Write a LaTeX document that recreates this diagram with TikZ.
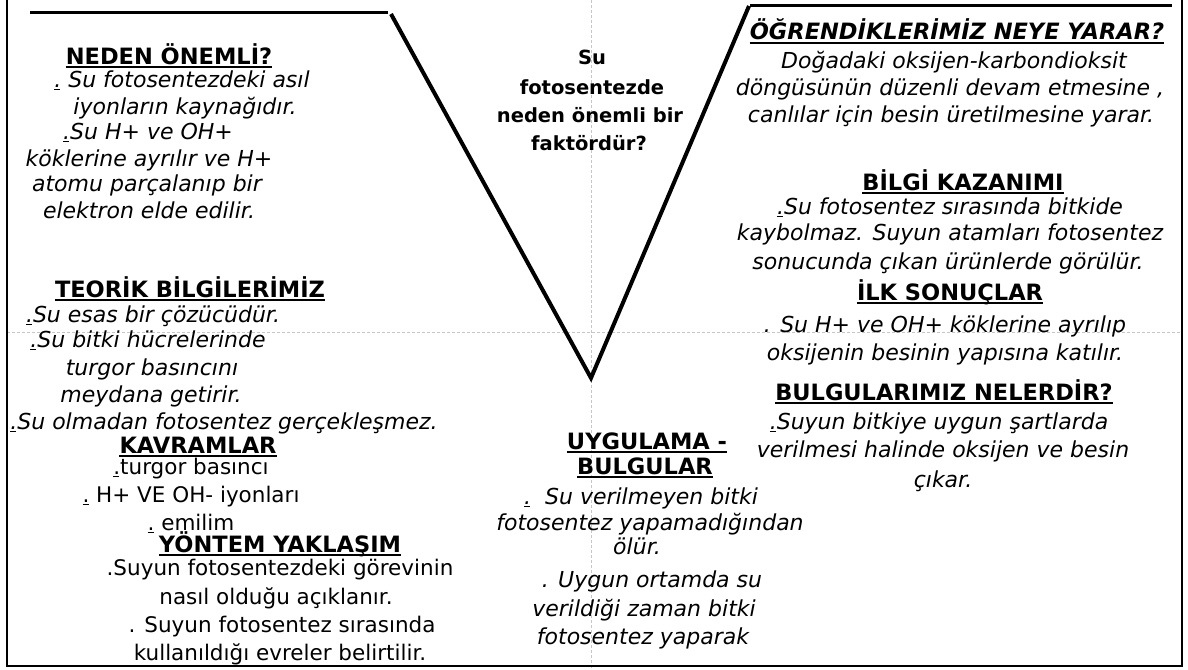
\documentclass[tikz,border=0pt]{standalone}
\usepackage{fontspec}
\setmainfont{DejaVu Sans}
\newcommand{\udot}{\rlap{\rule[-3pt]{6pt}{0.8pt}}.}

\tikzset{
  bodyline/.style={font=\fontsize{22}{26}\selectfont\itshape,anchor=base,inner sep=0pt},
  plainline/.style={font=\fontsize{21.5}{26}\selectfont,anchor=base,inner sep=0pt},
  headline/.style={font=\fontsize{22.5}{26}\selectfont\bfseries,anchor=base,inner sep=0pt,
    append after command={([yshift=-3pt]\tikzlastnode.base west) edge[line width=1.4pt] ([yshift=-3pt]\tikzlastnode.base east)}},
  questline/.style={font=\fontsize{19.5}{24}\selectfont\bfseries,anchor=base,inner sep=0pt},
  frame/.style={line width=2.5pt},
  varm/.style={line width=4pt},
  topline/.style={line width=3pt},
  guide/.style={gray!45,line width=0.7pt,dash pattern=on 3pt off 2pt}
}

\begin{document}
\begin{tikzpicture}[x=1pt,y=-1pt]
\useasboundingbox (0,0) rectangle (1188,669);
% guides and frame
\draw[guide] (591,0) -- (591,669);
\draw[guide] (7,332) -- (1182,332);
\draw[frame] (7,0) -- (7,666) -- (1182,666) -- (1182,0);
\draw[topline] (30,13) -- (388,13);
\draw[varm] (391,14) -- (591,378) -- (749,6);
\draw[topline] (750,6) -- (1172,6);

% neden onemli
\node[headline] (ne0) at (169,64) {NEDEN ÖNEMLİ?};
\node[bodyline] (ne1) at (182,87) {\udot\ Su fotosentezdeki asıl};
\node[bodyline] (ne2) at (185,114) {iyonların kaynağıdır.};
\node[bodyline] (ne3) at (148,139) {\udot Su H+ ve OH+};
\node[bodyline] (ne4) at (149,166) {köklerine ayrılır ve H+};
\node[bodyline] (ne5) at (147,191) {atomu parçalanıp bir};
\node[bodyline] (ne6) at (149,218) {elektron elde edilir.};

% teorik bilgiler
\node[headline] (tb0) at (190,297) {TEORİK BİLGİLERİMİZ};
\node[bodyline] (tb1) at (153,322) {\udot Su esas bir çözücüdür.};
\node[bodyline] (tb2) at (148,347) {\udot Su bitki hücrelerinde};
\node[bodyline] (tb3) at (152,375) {turgor basıncını};
\node[bodyline] (tb4) at (151,402) {meydana getirir.};
\node[bodyline] (tb5) at (224,429) {\udot Su olmadan fotosentez gerçekleşmez.};

% kavramlar
\node[headline] (kv0) at (198,453) {KAVRAMLAR};
\node[plainline] (kv1) at (191,474) {\udot turgor basıncı};
\node[plainline] (kv2) at (191,502) {\udot\ H+ VE OH- iyonları};
\node[plainline] (kv3) at (191,530) {\udot\ emilim};

% yontem yaklasim
\node[headline] (yy0) at (280,552) {YÖNTEM YAKLAŞIM};
\node[plainline] (yy1) at (280,575) {.Suyun fotosentezdeki görevinin};
\node[plainline] (yy2) at (276,604) {nasıl olduğu açıklanır.};
\node[plainline] (yy3) at (282,632) {. Suyun fotosentez sırasında};
\node[plainline] (yy4) at (280,660) {kullanıldığı evreler belirtilir.};

% soru
\node[questline] (sq1) at (592,65) {Su};
\node[questline] (sq2) at (592,94) {fotosentezde};
\node[questline] (sq3) at (590,122) {neden önemli bir};
\node[questline] (sq4) at (589,150) {faktördür?};

% uygulama - bulgular
\node[headline] (ub0) at (647,449) {UYGULAMA -\ };
\node[headline] (ub1) at (645,474) {BULGULAR};
\node[bodyline] (ub2) at (641,504) {\udot\ \ Su verilmeyen bitki};
\node[bodyline] (ub3) at (650,530) {fotosentez yapamadığından};
\node[bodyline] (ub4) at (637,554) {ölür.};
\node[bodyline] (ub5) at (652,587) {. Uygun ortamda su};
\node[bodyline] (ub6) at (644,616) {verildiği zaman bitki};
\node[bodyline] (ub7) at (643,644) {fotosentez yaparak};

% ogrendiklerimiz
\node[headline,font=\fontsize{22.5}{26}\selectfont\bfseries\itshape] (og0) at (957,40) {ÖĞRENDİKLERİMİZ NEYE YARAR?};
\node[bodyline] (og1) at (954,69) {Doğadaki oksijen-karbondioksit};
\node[bodyline] (og2) at (950,95) {döngüsünün düzenli devam etmesine ,};
\node[bodyline] (og3) at (951,122) {canlılar için besin üretilmesine yarar.};

% bilgi kazanimi
\node[headline] (bk0) at (963,190) {BİLGİ KAZANIMI};
\node[bodyline] (bk1) at (950,214) {\udot Su fotosentez sırasında bitkide};
\node[bodyline] (bk2) at (950,240) {kaybolmaz. Suyun atamları fotosentez};
\node[bodyline] (bk3) at (948,269) {sonucunda çıkan ürünlerde görülür.};

% ilk sonuclar
\node[headline] (is0) at (950,300) {İLK SONUÇLAR};
\node[bodyline] (is1) at (945,332) {. Su H+ ve OH+ köklerine ayrılıp};
\node[bodyline] (is2) at (945,360) {oksijenin besinin yapısına katılır.};

% bulgularimiz
\node[headline] (bn0) at (944,400) {BULGULARIMIZ NELERDİR?};
\node[bodyline] (bn1) at (939,429) {\udot Suyun bitkiye uygun şartlarda};
\node[bodyline] (bn2) at (943,457) {verilmesi halinde oksijen ve besin};
\node[bodyline] (bn3) at (943,487) {çıkar.};
\end{tikzpicture}
\end{document}
